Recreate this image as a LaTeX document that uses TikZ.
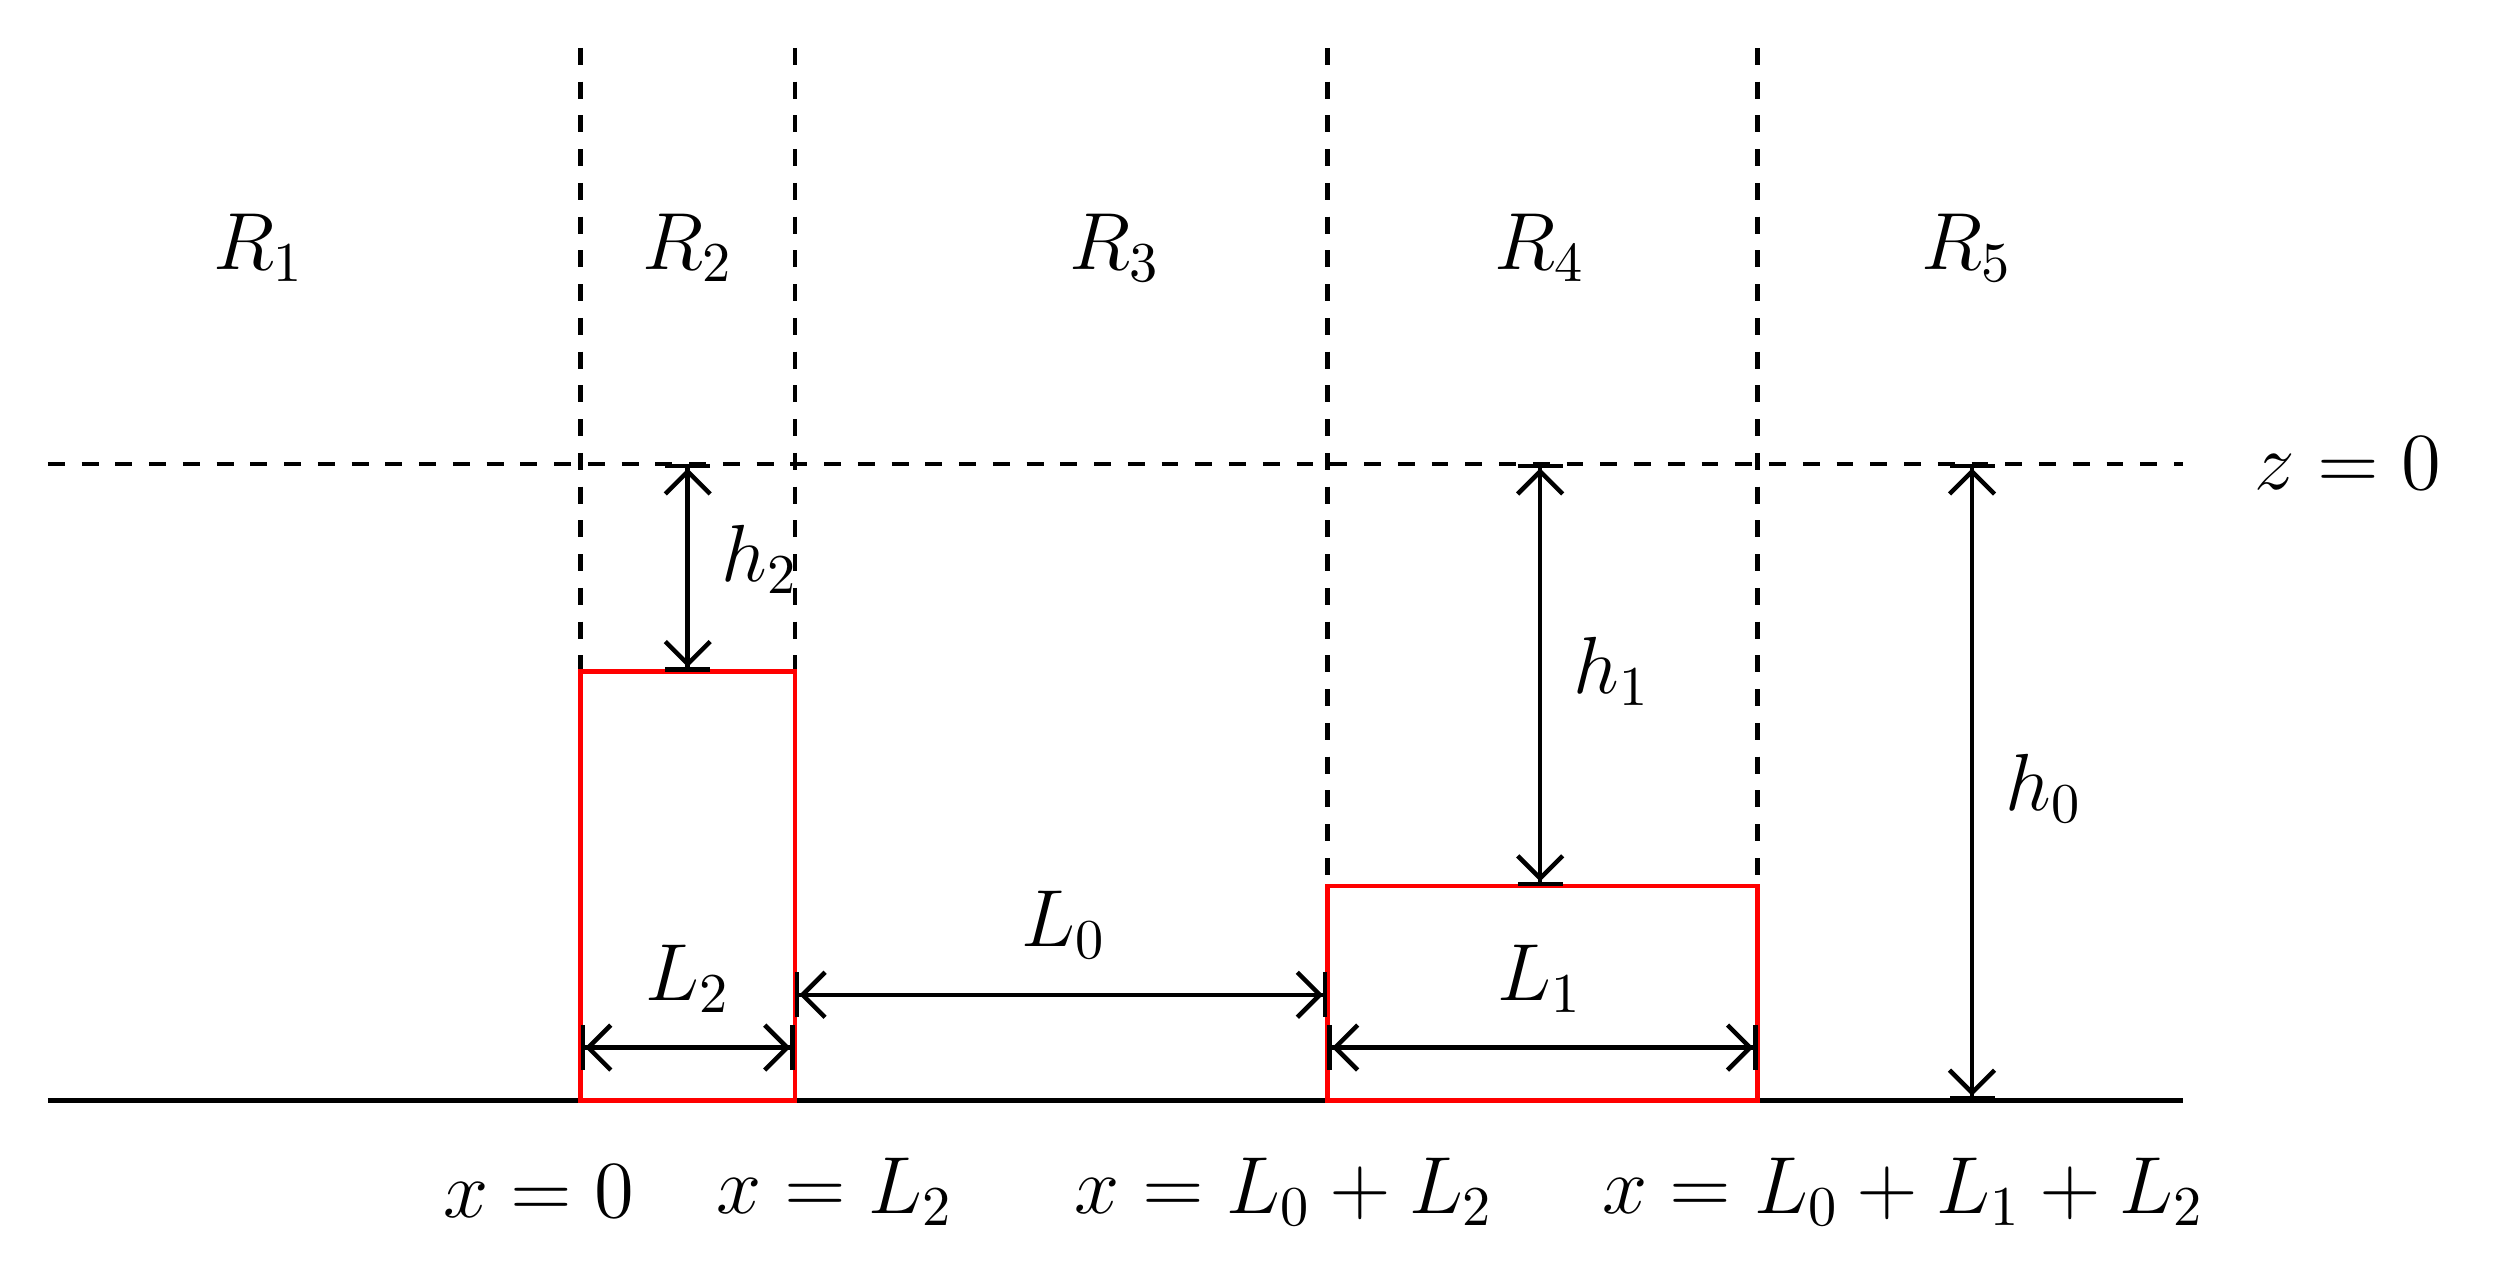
\documentclass[tikz,border=0pt]{standalone}
\usetikzlibrary{arrows.meta}
\begin{document}
\begin{tikzpicture}[x=0.01cm,y=-0.01cm,
  lab/.style={font=\Large},
  dim/.style={thick,{Bar[width=8pt]Straight Barb[length=4pt]}-{Straight Barb[length=4pt]Bar[width=8pt]}},
  dl/.style={thick,dashed}]
\useasboundingbox (0,0) rectangle (1560,795);
% dashed verticals
\coordinate (t1) at (363,30); \coordinate (b1) at (363,420);
\coordinate (t2) at (497,30); \coordinate (b2) at (497,420);
\coordinate (t3) at (830,30); \coordinate (b3) at (830,554);
\coordinate (t4) at (1099,30); \coordinate (b4) at (1099,554);
\draw[dl] (t1)--(b1) (t2)--(b2) (t3)--(b3) (t4)--(b4);
\coordinate (zl) at (30,290); \coordinate (zr) at (1365,290);
\draw[dl] (zl)--(zr);
\coordinate (gl) at (30,688); \coordinate (gr) at (1365,688);
\draw[thick] (gl)--(gr);
\draw[thick,red] (363,688) rectangle (497,420);
\draw[thick,red] (830,688) rectangle (1099,554);
% labels
\node[lab] (r1) at (162,155) {$R_1$};
\node[lab] (r2) at (430,155) {$R_2$};
\node[lab] (r3) at (697,155) {$R_3$};
\node[lab] (r4) at (963,155) {$R_4$};
\node[lab] (r5) at (1230,155) {$R_5$};
\node[lab] (z) at (1468,290) {$z=0$};
% vertical dims
\coordinate (a1) at (430,290); \coordinate (a2) at (430,420);
\draw[dim] (a1)--(a2); \node[lab] (h2) at (475,350) {$h_2$};
\coordinate (c1) at (963,290); \coordinate (c2) at (963,554);
\draw[dim] (c1)--(c2); \node[lab] (h1) at (1008,420) {$h_1$};
\coordinate (d1) at (1233,290); \coordinate (d2) at (1233,688);
\draw[dim] (d1)--(d2); \node[lab] (h0) at (1278,493) {$h_0$};
% horizontal dims
\coordinate (e1) at (363,655); \coordinate (e2) at (497,655);
\draw[dim] (e1)--(e2); \node[lab] (l2) at (430,612) {$L_2$};
\coordinate (f1) at (497,622); \coordinate (f2) at (830,622);
\draw[dim] (f1)--(f2); \node[lab] (l0) at (665,578) {$L_0$};
\coordinate (g1) at (830,655); \coordinate (g2) at (1099,655);
\draw[dim] (g1)--(g2); \node[lab] (l1) at (963,612) {$L_1$};
% bottom labels
\node[lab] (x1) at (337,745) {$x=0$};
\node[lab] (x2) at (522,745) {$x=L_2$};
\node[lab] (x3) at (803,745) {$x=L_0+L_2$};
\node[lab] (x4) at (1190,745) {$x=L_0+L_1+L_2$};
\end{tikzpicture}
\end{document}
